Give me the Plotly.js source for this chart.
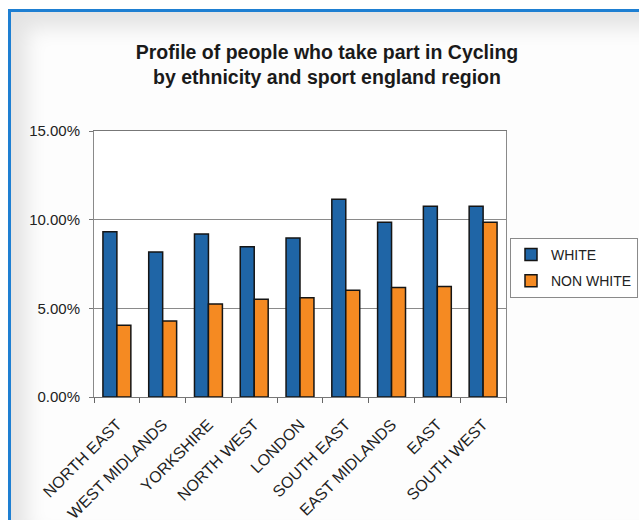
<!DOCTYPE html>
<html>
<head>
<meta charset="utf-8">
<script src="https://cdn.plot.ly/plotly-3.0.1.min.js"></script>
<style>
  html, body { margin: 0; padding: 0; background: #ffffff; }
  #wrap { position: relative; width: 639px; height: 526px; overflow: hidden; background: #ffffff; }
  #frame { position: absolute; left: 8px; top: 9px; width: 640px; height: 508px;
           border-left: 3px solid #1e7fd2; border-top: 3px solid #1e7fd2;
           box-shadow: inset 16px 16px 20px rgba(0,0,0,0.10); background: #fdfdfd; }
  #chart { position: absolute; left: 0; top: 0; width: 639px; height: 526px; }
</style>
</head>
<body>
<div id="wrap">
  <div id="frame"></div>
  <div id="chart"></div>
</div>
<script>
const regions = ["NORTH EAST", "WEST MIDLANDS", "YORKSHIRE", "NORTH WEST", "LONDON",
                 "SOUTH EAST", "EAST MIDLANDS", "EAST", "SOUTH WEST"];
const whiteValues = [0.0932, 0.0817, 0.0919, 0.0847, 0.0896, 0.1115, 0.0986, 0.1075, 0.1075];
const nonWhiteValues = [0.0405, 0.0429, 0.0525, 0.0551, 0.0559, 0.0602, 0.0618, 0.0623, 0.0986];
const yTickValues = [0, 0.05, 0.10, 0.15];
const yTickLabels = ["0.00%", "5.00%", "10.00%", "15.00%"];

const FONT = 'Arial, "Liberation Sans", sans-serif';

const traces = [
  { type: 'bar', name: 'WHITE', x: regions, y: whiteValues, legendgroup: 'a',
    marker: { color: '#1f65a6', line: { color: '#151515', width: 1.5 } } },
  { type: 'bar', name: 'NON WHITE', x: regions, y: nonWhiteValues, legendgroup: 'b',
    marker: { color: '#f58a22', line: { color: '#151515', width: 1.5 } } }
];

const layout = {
  width: 639, height: 526,
  margin: { l: 94, r: 133, t: 131, b: 129, autoexpand: false },
  paper_bgcolor: 'rgba(0,0,0,0)',
  plot_bgcolor: '#ffffff',
  font: { family: FONT, color: '#222222', size: 15 },
  title: {
    text: 'Profile of people who take part in Cycling<br>by ethnicity and sport england region',
    font: { family: FONT, size: 19.5, color: '#1a1a1a', weight: 'bold' },
    xref: 'container', yref: 'container', x: 327 / 639, xanchor: 'center',
    y: 1 - 59 / 526, yanchor: 'top'
  },
  barmode: 'group',
  bargap: 0.39,
  bargroupgap: 0,
  showlegend: true,
  legend: {
    x: (510 - 94) / 412, xanchor: 'left', y: (397 - 238) / 266, yanchor: 'top',
    bgcolor: '#ffffff', bordercolor: '#8a8a8a', borderwidth: 1,
    font: { family: FONT, size: 14, color: '#222222' },
    traceorder: 'grouped', tracegroupgap: 5,
    itemwidth: 30
  },
  xaxis: {
    type: 'category',
    tickangle: -45,
    tickson: 'boundaries',
    ticks: 'outside', ticklen: 5, tickcolor: '#666666',
    showline: true, linecolor: '#777777', linewidth: 1, mirror: true,
    tickfont: { family: FONT, size: 16, color: '#222222' },
    ticklabelstandoff: 11,
    showgrid: false
  },
  yaxis: {
    range: [0, 0.15],
    tickvals: yTickValues, ticktext: yTickLabels,
    ticks: 'outside', ticklen: 4, tickcolor: '#777777',
    showline: true, linecolor: '#8a8a8a', linewidth: 1, mirror: true,
    showgrid: true, gridcolor: '#8a8a8a', gridwidth: 1,
    zeroline: false,
    tickfont: { family: FONT, size: 15, color: '#222222' },
    ticklabelstandoff: 6
  }
};

Plotly.newPlot('chart', traces, layout, { displayModeBar: false, staticPlot: true });
</script>
</body>
</html>
